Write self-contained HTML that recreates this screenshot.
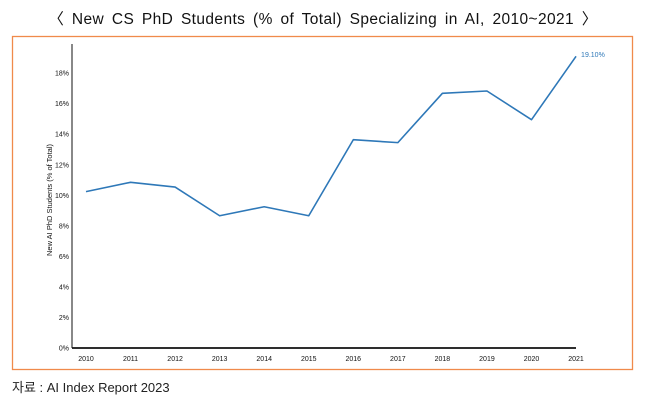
<!DOCTYPE html>
<html><head><meta charset="utf-8"><style>
body{margin:0;width:647px;height:409px;background:#fff;font-family:"Liberation Sans","Noto Sans CJK KR",sans-serif;overflow:hidden}
</style></head><body>
<svg width="647" height="409" id="svg">
<text x="323" y="24" text-anchor="middle" font-size="15.5" letter-spacing="0.4" word-spacing="3" fill="#111" font-family="Liberation Sans, Noto Sans CJK KR, sans-serif">〈 New CS PhD Students (% of Total) Specializing in AI, 2010~2021 〉</text>
<rect x="12.5" y="36.5" width="620" height="333" fill="none" stroke="#f08a4b" stroke-width="1.3"/>
<text transform="translate(52,200) rotate(-90)" text-anchor="middle" font-size="7.5" fill="#111">New AI PhD Students (% of Total)</text>
<text x="12" y="392" font-size="13" fill="#222" font-family="Liberation Sans, Noto Sans CJK KR, sans-serif">자료 : AI Index Report 2023</text>
<g id="plot"></g>
</svg>
<script>
const years=["2010","2011","2012","2013","2014","2015","2016","2017","2018","2019","2020","2021"];
const values=[10.24,10.85,10.54,8.66,9.25,8.66,13.64,13.45,16.68,16.83,14.95,19.10];
const yTicks=[0,2,4,6,8,10,12,14,16,18];
const lastLabel="19.10%";
const NS="http://www.w3.org/2000/svg";
const g=document.getElementById('plot');
const x0=86,dx=44.55,yBase=348,pxPer=15.27;
function xs(i){return x0+i*dx;}
function ys(v){return yBase-v*pxPer;}
function mk(t,a){const e=document.createElementNS(NS,t);for(const k in a)e.setAttribute(k,a[k]);g.appendChild(e);return e;}
let ax=mk('line',{x1:72,y1:44,x2:72,y2:yBase,stroke:'#111','stroke-width':1});


let bx=mk('line',{x1:72,y1:yBase,x2:576,y2:yBase,stroke:'#111','stroke-width':1.8});


yTicks.forEach(v=>{const t=mk('text',{x:69,y:ys(v)+2.5,'text-anchor':'end','font-size':7,fill:'#111'});t.textContent=v+'%';

});
years.forEach((y,i)=>{const t=mk('text',{x:xs(i),y:361,'text-anchor':'middle','font-size':7,fill:'#111'});t.textContent=y;

});
const pts=values.map((v,i)=>xs(i)+','+ys(v)).join(' ');
const line=mk('polyline',{points:pts,fill:'none',stroke:'#2e78b8','stroke-width':1.6,'stroke-linejoin':'round'});


const n=values.length-1;
const lab=mk('text',{x:xs(n)+5,y:ys(values[n])+0.5,'font-size':7,fill:'#2e78b8'});lab.textContent=lastLabel;


</script>
</body></html>
